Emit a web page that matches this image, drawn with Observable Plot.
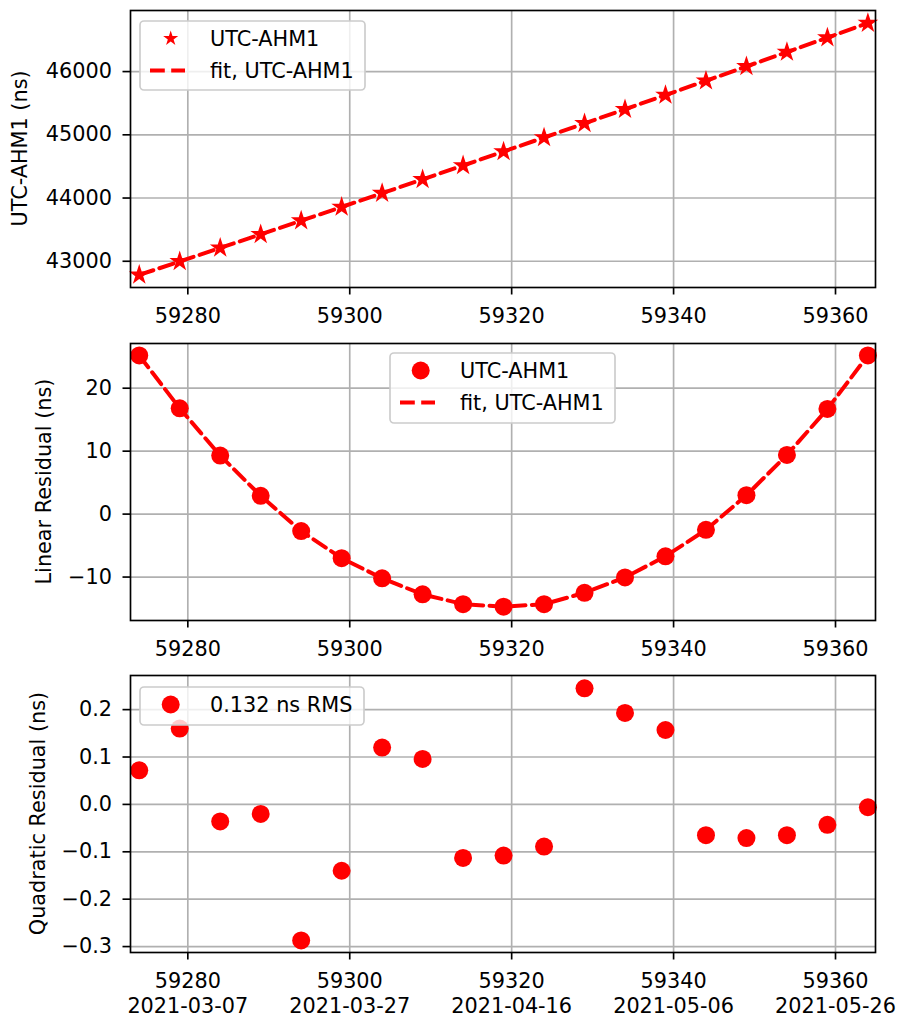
<!DOCTYPE html>
<html><head><meta charset="utf-8">
<script src="https://cdn.jsdelivr.net/npm/d3@7"></script>
<script src="https://cdn.jsdelivr.net/npm/@observablehq/plot@0.6"></script>
<style>
body{margin:0;background:#fff;}
#chart{width:900px;height:1018px;position:relative;}
#chart svg{display:block;}
</style></head>
<body><div id="chart"></div>
<script>
const mjd = [59274,59279,59284,59289,59294,59299,59304,59309,59314,59319,59324,59329,59334,59339,59344,59349,59354,59359,59364];
const utcAhm1 = [42784.0,42996.9,43210.7,43425.5,43641.2,43858.2,44076.3,44295.0,44514.7,44735.6,44957.3,45180.4,45404.1,45628.7,45854.2,46081.0,46308.7,46537.3,46767.0];
const linResid = [25.2,16.8,9.3,2.9,-2.7,-7.0,-10.2,-12.75,-14.3,-14.7,-14.3,-12.5,-10.05,-6.7,-2.5,3.0,9.4,16.7,25.2];
const quadResid = [0.072,0.160,-0.036,-0.020,-0.287,-0.140,0.120,0.096,-0.113,-0.108,-0.089,0.245,0.193,0.157,-0.065,-0.071,-0.065,-0.043,-0.006];
const xTicks = [59280,59300,59320,59340,59360];
const yTicks1 = [43000,44000,45000,46000];
const yTicks2 = [-10,0,10,20];
const yTicks3 = [-0.3,-0.2,-0.1,0.0,0.1,0.2];
const yLabels = ["UTC-AHM1 (ns)","Linear Residual (ns)","Quadratic Residual (ns)"];
const legend1 = ["UTC-AHM1","fit, UTC-AHM1"];
const legend3 = ["0.132 ns RMS"];

const RED = "#ff0000";
const FS = 20.8;
const LW = 1.67;
const dash = "14.8,6.4";
const xDomain = [59272.92, 59364.94];
const minus = s => s.replace("-", "\u2212");
const mjdDate = m => d3.utcFormat("%Y-%m-%d")(new Date(Date.UTC(1858,10,17) + m*864e5));

function panel({ys, yDomain, yTicks, yFmt, height, marginTop, marginBottom, symbol, r, withLine, dateLabels}) {
  const data = mjd.map((m,i) => ({x: m, y: ys[i]}));
  const marks = [
    Plot.gridX(xTicks, {stroke: "#b0b0b0", strokeOpacity: 1, strokeWidth: LW}),
    Plot.gridY(yTicks, {stroke: "#b0b0b0", strokeOpacity: 1, strokeWidth: LW}),
    Plot.axisX(xTicks, {tickSize: 7.5, tickPadding: 10, strokeWidth: LW, lineHeight: 1.2,
      tickFormat: d => dateLabels ? `${d}\n${mjdDate(d)}` : `${d}`}),
    Plot.axisY(yTicks, {tickSize: 7.5, tickPadding: 11, strokeWidth: LW, tickFormat: yFmt}),
    Plot.dot(data, {x: "x", y: "y", symbol, r, fill: RED, stroke: null}),
  ];
  if (withLine) marks.push(Plot.line(data, {x: "x", y: "y", stroke: RED, strokeWidth: 4, strokeDasharray: dash}));
  marks.push(Plot.frame({stroke: "black", strokeWidth: LW}));
  return Plot.plot({
    width: 900, height, marginLeft: 130, marginRight: 25, marginTop, marginBottom,
    style: {fontFamily: "DejaVu Sans", fontSize: FS + "px", color: "black", background: "white", overflow: "visible"},
    x: {domain: xDomain, label: null},
    y: {domain: yDomain, label: null},
    marks
  });
}

function yLabel(svg, text, x, y) {
  d3.select(svg).append("text").attr("transform", `translate(${x},${y}) rotate(-90)`)
    .attr("text-anchor", "middle").attr("dominant-baseline", "central")
    .attr("font-family", "DejaVu Sans").attr("font-size", FS).attr("fill", "black").text(text);
}

function legend(svg, {x, y, w, h, items}) {
  const g = d3.select(svg).append("g").attr("text-anchor", "start");
  g.append("rect").attr("x", x).attr("y", y).attr("width", w).attr("height", h).attr("rx", 4)
    .attr("fill", "white").attr("fill-opacity", 0.8).attr("stroke", "#cccccc").attr("stroke-width", LW);
  items.forEach((it, i) => {
    const cy = y + 17.5 + i * 32;
    if (it.kind === "star") g.append("path").attr("d", d3.symbol(d3.symbolStar, 70)()).attr("transform", `translate(${x+30.7},${cy})`).attr("fill", RED);
    if (it.kind === "dot") g.append("circle").attr("cx", x + 30.7).attr("cy", cy).attr("r", 9).attr("fill", RED);
    if (it.kind === "line") g.append("line").attr("x1", x + 10).attr("x2", x + 45).attr("y1", cy).attr("y2", cy)
      .attr("stroke", RED).attr("stroke-width", 4).attr("stroke-dasharray", dash);
    g.append("text").attr("x", x + 70).attr("y", cy + 7.5).attr("text-anchor", "start")
      .attr("font-family", "DejaVu Sans").attr("font-size", FS).attr("fill", "black").text(it.text);
  });
}

const c = document.getElementById("chart");

const p1 = panel({ys: utcAhm1, yDomain: [42585, 46966], yTicks: yTicks1, yFmt: d => `${d}`,
  height: 333, marginTop: 10, marginBottom: 46, symbol: "star", r: 6.5, withLine: true});
yLabel(p1, yLabels[0], 20, 148.5);
legend(p1, {x: 140, y: 21, w: 225, h: 69, items: [{kind: "star", text: legend1[0]}, {kind: "line", text: legend1[1]}]});
c.append(p1);

const p2 = panel({ys: linResid, yDomain: [-16.9, 27.1], yTicks: yTicks2, yFmt: d => minus(`${d}`),
  height: 333, marginTop: 10, marginBottom: 46, symbol: "circle", r: 9, withLine: true});
yLabel(p2, yLabels[1], 44, 148.5);
legend(p2, {x: 390, y: 20, w: 225, h: 70, items: [{kind: "dot", text: legend1[0]}, {kind: "line", text: legend1[1]}]});
c.append(p2);

const p3 = panel({ys: quadResid, yDomain: [-0.3125, 0.272], yTicks: yTicks3, yFmt: d => minus(d.toFixed(1)),
  height: 352, marginTop: 9, marginBottom: 66, symbol: "circle", r: 9, withLine: false, dateLabels: true});
yLabel(p3, yLabels[2], 37.5, 147.5);
legend(p3, {x: 140, y: 21, w: 224, h: 38, items: [{kind: "dot", text: legend3[0]}]});
c.append(p3);
</script></body></html>
